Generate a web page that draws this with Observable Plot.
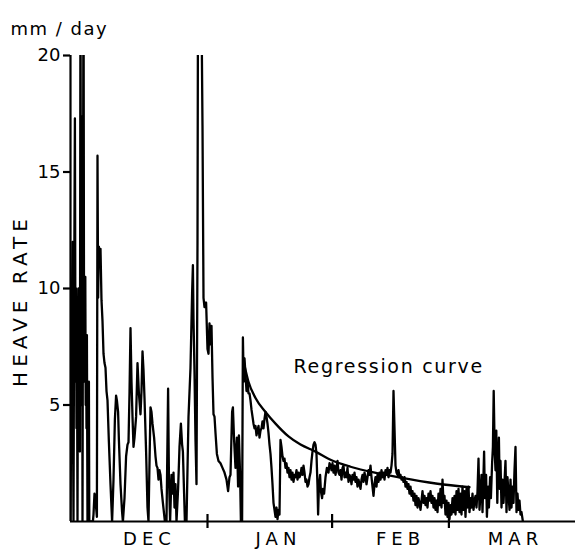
<!DOCTYPE html>
<html><head><meta charset="utf-8">
<script src="https://cdn.jsdelivr.net/npm/d3@7"></script>
<script src="https://cdn.jsdelivr.net/npm/@observablehq/plot@0.6"></script>
<style>body{margin:0;background:#fff}</style>
</head><body><div id="chart"></div>
<script>
// day index since start of record (approx. late November), heave rate mm/day
const heave = [
[0,0],[0.3,8],[0.5,12],[0.6,5],[0.75,0],[0.9,9],[1.1,17.3],[1.25,6],[1.4,10],[1.5,4],[1.6,9],[1.75,0],[1.85,7],[2.0,10],[2.1,5],[2.25,9],[2.35,3],[2.5,25],[2.6,8],[2.75,5],[2.9,17.4],[3.0,0],[3.1,9],[3.25,25],[3.4,6],[3.5,10],[3.6,7],[3.7,10.5],[3.8,5],[3.9,8],[4.0,4],[4.1,8],[4.25,0],[4.4,5],[4.5,2],[4.6,6],[4.7,0],
[5.6,0],[5.75,0.3],[6.0,1.2],[6.3,0.8],[6.6,0.2],[6.75,15.7],[6.9,9.6],[7.1,11.8],[7.3,11.0],[7.5,11.7],[7.75,9.5],[8.0,8.6],[8.25,7.2],[8.5,6.8],[8.75,6.6],[9.0,5.6],[9.25,5.2],[9.6,3.4],[10,1.6],[10.4,0],
[10.75,1.8],[11.1,4.4],[11.4,5.4],[11.6,5.2],[11.9,4.7],[12.1,3.5],[12.5,1.6],[12.9,0.4],[13.1,0],
[13.5,1.0],[13.9,2.8],[14.25,3.3],[14.5,3.4],[14.75,5.5],[15.0,8.3],[15.25,6.0],[15.5,4.5],[15.75,3.2],[16.0,3.6],[16.4,4.5],[16.75,6.8],[17.1,5.5],[17.5,4.6],[17.75,5.6],[18.0,7.3],[18.25,6.5],[18.5,5.3],[18.9,3.0],[19.25,0.6],[19.5,0],
[19.75,2.5],[20.0,4.9],[20.25,4.7],[20.5,4.2],[20.9,3.6],[21.25,2.8],[21.5,2.4],[21.75,2.3],[22.0,1.8],[22.25,2.2],[22.5,2.0],[22.75,1.4],[23.1,0.8],[23.6,0],
[24,0],[24.4,5.7],[24.6,2.0],[24.9,0],[25.25,2.0],[25.5,1.2],[25.75,2.1],[26,0.6],[26.25,1.6],[26.5,0],[26.9,1.4],[27.25,3.2],[27.6,4.2],[27.9,3.3],[28.1,3.0],[28.4,1.2],[28.6,0],[29,0],
[29.5,4.5],[30,6.6],[30.4,9.8],[30.6,11.0],[30.75,8.7],[31,6.4],[31.25,3.5],[31.5,1.6],[31.75,12],[31.9,25],[32.25,25],[32.6,25],[33,17],[33.25,9.6],[33.5,9.2],[33.9,9.4],[34.25,7.4],[34.5,7.2],[34.75,8.5],[35,7.6],[35.25,8.4],[35.5,6.2],[35.75,4.6],[36,4.5],[36.25,3.8],[36.6,2.9],[37,2.6],[37.5,2.5],[38,2.3],[38.5,2.1],[39,1.8],[39.4,1.3],[39.75,1.9],[40,2.0],[40.4,4.7],[40.6,4.9],[40.9,3.5],[41.25,2.3],[41.6,3.6],[41.9,1.5],[42.1,3.7],[42.4,2.0],[42.6,0],[42.9,0],
[43.1,7.9],[43.3,6.0],[43.5,7.0],[43.75,6.3],[44,5.6],[44.25,6.0],[44.5,5.5],[44.75,5.5],[45,5.2],[45.25,4.8],[45.5,4.5],[45.75,4.2],[46,4.0],[46.25,4.1],[46.5,3.7],[46.75,3.9],[47,4.1],[47.25,3.6],[47.5,3.9],[47.75,4.0],[48,4.3],[48.25,4.0],[48.5,4.4],[48.75,4.7],[49,4.5],[49.25,4.2],[49.5,3.8],[49.75,3.3],[50,2.9],[50.25,2.3],[50.5,1.6],[50.75,0.8],[51,0.5],[51.25,0.2],[51.5,0.6],[51.75,0.1],[52,0.5],[52.25,0.3],
[52.5,3.5],[52.75,3.2],[53,2.8],[53.25,2.6],[53.5,2.7],[53.75,2.3],[54,2.5],[54.25,2.1],[54.5,2.3],[54.75,1.9],[55,2.2],[55.25,1.8],[55.5,2.1],[55.75,1.7],[56,2.0],[56.25,1.9],[56.5,2.2],[56.75,1.8],[57,2.1],[57.25,1.9],[57.5,2.0],[57.75,2.3],[58,2.0],[58.25,2.4],[58.5,2.1],[58.75,1.7],[59,1.8],[59.25,1.5],[59.5,1.6],[59.75,1.9],[60,2.1],[60.25,2.6],[60.5,3.0],[60.75,3.3],[61,3.4],[61.25,3.3],[61.5,2.9],[61.75,1.5],[61.9,0.3],[62.1,1.5],[62.4,2.0],[62.6,1.3],[62.9,1.0],[63.1,1.4],[63.4,1.2],[63.75,1.9],[64.1,2.3],[64.5,2.1],[64.75,2.5],[65,2.4],[65.25,2.2],[65.5,2.5],[65.75,2.1],[66,2.4],[66.25,2.0],[66.5,2.3],[66.75,2.6],[67,2.1],[67.25,2.0],[67.5,2.2],[67.75,1.8],[68,2.3],[68.25,2.4],[68.5,1.9],[68.75,2.1],[69,1.9],[69.25,2.3],[69.5,1.7],[69.75,2.0],[70,1.9],[70.25,1.6],[70.5,2.0],[70.75,1.8],[71,2.1],[71.25,1.7],[71.5,1.9],[71.75,1.5],[72,1.8],[72.25,1.6],[72.5,1.4],[72.75,1.8],[73,2.0],[73.25,1.7],[73.5,2.1],[73.75,1.9],[74,1.6],[74.25,1.9],[74.5,2.2],[74.75,2.0],[75,2.4],[75.25,1.9],[75.5,1.5],[75.75,1.1],[76,1.6],[76.25,1.9],[76.5,1.5],[76.75,2.0],[77,1.7],[77.25,2.1],[77.5,1.8],[77.75,2.2],[78,1.9],[78.25,2.1],[78.5,1.8],[78.75,2.2],[79,2.0],[79.25,2.3],[79.5,1.9],[79.75,2.2],[80,2.1],[80.25,2.4],[80.5,2.9],[80.75,5.6],[81,4.0],[81.25,2.4],[81.5,2.1],[81.75,2.0],[82,2.2],[82.25,1.9],[82.5,2.0],[82.75,1.8],[83,1.9],[83.25,1.7],[83.5,1.9],[83.75,1.5],[84,1.7],[84.25,1.4],[84.5,1.6],[84.75,1.2],[85,1.5],[85.25,1.1],[85.5,1.3],[85.75,0.9],[86,1.2],[86.25,0.7],[86.5,1.1],[86.75,0.6],[87,1.0],[87.25,0.8],[87.5,0.5],[87.75,0.9],[88,1.3],[88.25,0.8],[88.5,1.1],[88.75,0.7],[89,1.0],[89.25,0.6],[89.5,1.2],[89.75,0.9],[90,1.3],[90.25,0.8],[90.5,1.1],[90.75,0.6],[91,1.0],[91.25,0.5],[91.5,0.9],[91.75,0.4],[92,1.2],[92.25,0.7],[92.5,1.4],[92.75,0.6],[93,1.8],[93.25,0.8],[93.5,1.1],[93.75,0.3],[94,0.9],[94.25,0.2],[94.5,0.8],[94.75,0.1],[95,0.7],[95.25,0.3],[95.5,1.0],[95.75,0.4],[96,1.1],[96.25,0.3],[96.5,1.3],[96.75,0.5],[97,1.4],[97.25,0.4],[97.5,1.2],[97.75,0.3],[98,1.5],[98.25,0.5],[98.5,1.3],[98.75,0.2],[99,1.4],[99.25,0.6],[99.5,1.5],[99.75,0.4],[100,1.0],[100.25,0.6],[100.5,1.2],[100.75,0.5],[101,0.9],[101.25,1.1],[101.5,0.6],[101.75,1.3],[102,2.7],[102.25,0.5],[102.5,1.2],[102.75,2.0],[103,0.4],[103.4,3.0],[103.6,1.0],[103.9,2.0],[104.1,0.2],[104.4,1.5],[104.6,0.6],[104.9,1.9],[105.1,1.0],[105.4,2.5],[105.6,3.2],[105.8,5.6],[106.05,3.0],[106.25,2.2],[106.45,3.9],[106.7,0.8],[106.9,2.5],[107.1,3.6],[107.3,1.4],[107.5,2.6],[107.75,0.6],[108,1.8],[108.25,0.8],[108.5,1.7],[108.75,2.6],[109,0.4],[109.25,1.9],[109.5,1.2],[109.75,0.5],[110,1.8],[110.25,0.6],[110.5,1.5],[110.75,0.8],[111,2.2],[111.25,3.2],[111.5,0.4],[111.75,1.2],[112,0.5],[112.25,0.9],[112.5,0.3],[112.75,0.4],[113.1,0]
];
const regression = [[43.5,6.7],[44.5,6.0],[46.25,5.3],[48.75,4.7],[51.25,4.2],[54.5,3.65],[57.5,3.3],[61.25,3.0],[65,2.65],[70,2.35],[77.5,2.05],[82.5,1.88],[91.75,1.62],[99.75,1.47]];
const monthTickDays = [34.25, 65.4, 94.6];
const monthLabelDays = [19.75, 52, 82.5, 111.25];
const monthLabels = ["DEC", "JAN", "FEB", "MAR"];
const yTicks = [5, 10, 15, 20];
const yUnit = "mm / day";
const yTitle = "HEAVE RATE";
const curveLabel = "Regression curve";
const curveLabelAt = [55.75, 6.63];

const months = monthLabels.map((m, i) => ({m, d: monthLabelDays[i]}));

const chart = Plot.plot({
  width: 576, height: 553,
  marginLeft: 70, marginRight: 1, marginTop: 55, marginBottom: 32,
  style: {fontFamily: "'DejaVu Sans', sans-serif", background: "white", color: "black"},
  x: {domain: [0, 126.25], axis: null},
  y: {domain: [0, 20]},
  marks: [
    Plot.ruleY([0], {strokeWidth: 2.2}),
    Plot.ruleX([0], {y1: 0, y2: 20, strokeWidth: 2.2}),
    Plot.axisY(yTicks, {tickSize: 7, tickPadding: 3, fontSize: 18, strokeWidth: 2.2}),
    Plot.ruleX(monthTickDays, {y1: -0.3, y2: 0.3, strokeWidth: 2.2}),
    Plot.text(months, {x: "d", text: "m", frameAnchor: "bottom", dy: 23, fontSize: 18}),
    Plot.line(heave, {x: d => d[0], y: d => d[1], strokeWidth: 2.3, clip: true}),
    Plot.line(regression, {x: d => d[0], y: d => d[1], curve: "monotone-x", strokeWidth: 2.3}),
    Plot.text([curveLabel], {x: [curveLabelAt[0]], y: [curveLabelAt[1]], text: d => d, textAnchor: "start", fontSize: 19}),
    Plot.text([yTitle], {frameAnchor: "left", textAnchor: "middle", dx: -50, dy: 12, rotate: -90, fontSize: 20}),
    Plot.text([yUnit], {frameAnchor: "top-left", dx: -60, dy: -33, textAnchor: "start", fontSize: 18})
  ]
});

const spacing = {"DEC": 5, "JAN": 5, "FEB": 5, "MAR": 5, "HEAVE RATE": 5, "Regression curve": 1.7, "mm / day": 1.5};
d3.select(chart).selectAll("text").each(function() {
  const s = spacing[this.textContent];
  if (s) this.setAttribute("letter-spacing", s);
});
document.getElementById("chart").appendChild(chart);
</script>
</body></html>
